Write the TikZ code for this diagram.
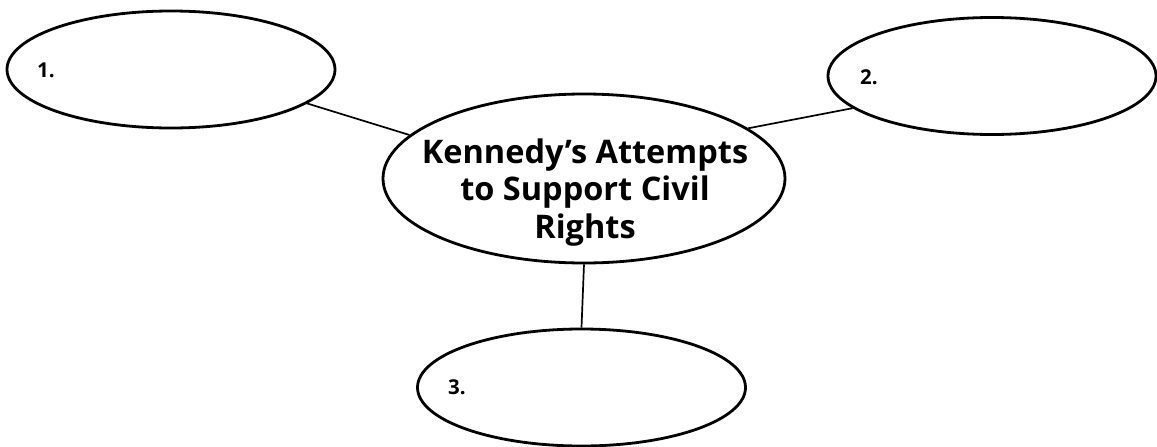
\documentclass[tikz,border=0pt]{standalone}
\usepackage{fontspec}
\usepackage{tikz}
\usetikzlibrary{shapes.geometric}
\newfontfamily\webfont{Open Sans}
\tikzset{
    bubble/.style = {ellipse, draw=black, line width=2.8pt, inner sep=0pt, minimum width=328pt, minimum height=117pt},
    hubnode/.style = {bubble, minimum width=402pt, minimum height=169pt},
    title/.style = {align=center, inner sep=0pt, font=\webfont\bfseries\fontsize{32.5}{37.5}\selectfont},
    num/.style = {inner sep=0pt, anchor=base west, font=\webfont\bfseries\fontsize{20.5}{22}\selectfont},
    spoke/.style = {draw=black, line width=1.7pt}
}
\begin{document}
\begin{tikzpicture}[x=1pt, y=-1pt]
    \useasboundingbox (0,0) rectangle (1157,447);

    \node [hubnode] (hub) at (584,178.5) {};
    % base anchor sits on the last line
    \node [title, anchor=base] (topic) at (585,238)
        {Kennedy’s Attempts\\to Support Civil\\Rights};

    \node [bubble] (e1) at (171,69.5) {};
    \node [bubble] (e2) at (992,76) {};
    \node [bubble] (e3) at (581.5,387.5) {};

    \node [num] (n1) at (37,77) {1.};
    \node [num] (n2) at (860,84) {2.};
    \node [num] (n3) at (448,394) {3.};

    \draw [spoke] (e1.-14) -- (hub.166);
    \draw [spoke] (hub.17) -- (e2.193);
    \draw [spoke] (hub.south) -- (e3.north);
\end{tikzpicture}
\end{document}
